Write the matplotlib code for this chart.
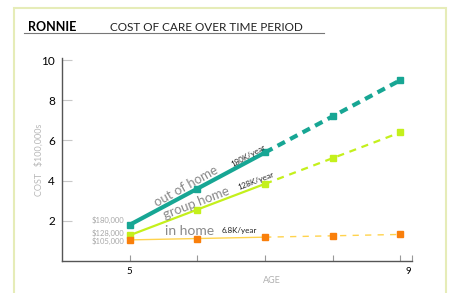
import matplotlib
matplotlib.use("Agg")
import matplotlib.pyplot as plt
import matplotlib.transforms as mtransforms
from matplotlib.lines import Line2D

plt.rcParams['font.family'] = ['Lato', 'DejaVu Sans']

# data (cost in $100,000s by age)
ages = [5, 6, 7, 8, 9]
out_of_home = [1.8, 3.6, 5.4, 7.2, 9.0]
group_home = [1.28, 2.56, 3.84, 5.12, 6.4]
in_home = [1.05, 1.118, 1.186, 1.254, 1.322]
start_labels = ['$180,000', '$128,000', '$105,000']
rate_labels = ['180K/year', '128K/year', '6.8K/year']
series_names = ['out of home', 'group home', 'in home']

teal = '#17a694'
lime = '#c4f01c'
yellow = '#ffd34d'
orange = '#f97f0b'
gray = '#a8a8a8'

fig = plt.figure(figsize=(4.49, 2.93), dpi=100)
ax = fig.add_axes([62 / 449, 32 / 293, 350 / 449, 203 / 293])

# frame around the chart
fig.add_artist(plt.Rectangle((14 / 449, -0.05), 432 / 449, 1.05 - 8 / 293,
                             transform=fig.transFigure, fill=False,
                             edgecolor='#e6ecb8', linewidth=1.5))

# title and underline
fig.text(28 / 449, 1 - 31 / 293, 'RONNIE', fontsize=9, fontweight='bold', color='black')
fig.text(110 / 449, 1 - 31 / 293, 'COST OF CARE OVER TIME PERIOD', fontsize=8.5, color='#222222')
fig.add_artist(Line2D([24 / 449, 324 / 449], [1 - 32.5 / 293, 1 - 32.5 / 293],
                      transform=fig.transFigure, color='#777777', linewidth=0.8))

# solid part (age 5-7) and dashed projection (age 7-9)
styles = [(out_of_home, teal, teal, 3.0, 4.0, (0, (2.0, 1.4))),
          (group_home, lime, lime, 1.6, 4.0, (0, (3.2, 2.6))),
          (in_home, yellow, orange, 1.0, 4.5, (0, (4.5, 4.5)))]
for vals, lc, mc, lw, ms, dash in styles:
    ax.plot(ages[:3], vals[:3], color=lc, linewidth=lw, solid_capstyle='butt', zorder=2)
    ax.plot(ages[2:], vals[2:], color=lc, linewidth=lw, linestyle=dash,
            dash_capstyle='butt', zorder=2)
    ax.plot(ages, vals, linestyle='none', marker='s', markersize=ms,
            markerfacecolor=mc, markeredgecolor=mc, zorder=3)

# series names along the lines
ax.text(5.84, 3.74, series_names[0], fontsize=9.5, color='#8a8a8a', rotation=29,
        ha='center', va='center')
ax.text(5.99, 2.87, series_names[1], fontsize=9.5, color='#8a8a8a', rotation=21,
        ha='center', va='center')
ax.text(5.88, 1.47, series_names[2], fontsize=10, color='#8a8a8a', ha='center', va='center')

# growth rates
ax.text(6.75, 5.22, rate_labels[0], fontsize=5.8, color='#222222', rotation=29,
        ha='center', va='center')
ax.text(6.86, 3.98, rate_labels[1], fontsize=5.8, color='#222222', rotation=21,
        ha='center', va='center')
ax.text(6.62, 1.5, rate_labels[2], fontsize=5.8, color='#222222', ha='center', va='center')

# starting values
for lab, yv in zip(start_labels, [2.05, 1.37, 0.99]):
    ax.text(4.92, yv, lab, fontsize=5.5, color=gray, ha='right', va='center')

ax.set_xlim(4, 9.17)
ax.set_ylim(0, 10.1)
ax.set_xticks(ages + [9.17])
ax.set_xticklabels(['5', '', '', '', '9', ''])
ax.set_yticks([2, 4, 6, 8, 10])
ax.tick_params(axis='y', direction='in', length=7.5, color='#c8c8c8', labelsize=8.5, pad=5)
ax.tick_params(axis='x', direction='in', length=4.5, color='#999999', labelsize=7, pad=4)

# the "9" label sits a little right of its tick
shift = mtransforms.ScaledTranslation(8 / 100, 0, fig.dpi_scale_trans)
lbl9 = ax.get_xticklabels()[4]
lbl9.set_transform(lbl9.get_transform() + shift)

for s in ['top', 'right']:
    ax.spines[s].set_visible(False)
for s in ['left', 'bottom']:
    ax.spines[s].set_color('#555555')
    ax.spines[s].set_linewidth(1.0)

ax.set_xlabel('AGE', fontsize=6.5, color='#b0b0b0')
ax.xaxis.set_label_coords(0.6, -0.074)
ax.set_ylabel('COST   $100,000s', fontsize=6.5, color='#b8b8b8')
ax.yaxis.set_label_coords(-0.052, 0.5)

plt.savefig('out.png', dpi=100)
